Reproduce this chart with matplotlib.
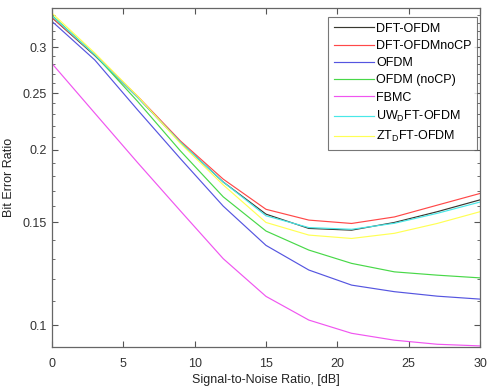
import numpy as np
import matplotlib
matplotlib.use("Agg")
import matplotlib.pyplot as plt
from matplotlib.ticker import FixedLocator, FixedFormatter, NullFormatter

# SNR points (dB)
snr = [0, 3, 6, 9, 12, 15, 18, 21, 24, 27, 30]

# BER
dft_ofdm = [0.337, 0.290, 0.246, 0.206, 0.176, 0.155, 0.1465, 0.1455, 0.150, 0.1565, 0.164]
dft_ofdm_nocp = [0.337, 0.291, 0.247, 0.207, 0.178, 0.158, 0.1514, 0.1494, 0.1533, 0.1606, 0.1682]
ofdm = [0.332, 0.285, 0.234, 0.193, 0.160, 0.137, 0.1243, 0.1171, 0.1141, 0.1121, 0.1108]
ofdm_nocp = [0.340, 0.291, 0.242, 0.199, 0.166, 0.145, 0.1345, 0.1276, 0.1234, 0.1218, 0.1205]
fbmc = [0.281, 0.231, 0.190, 0.157, 0.130, 0.112, 0.102, 0.0968, 0.0942, 0.0927, 0.0921]
uw_dft = [0.339, 0.291, 0.246, 0.206, 0.176, 0.154, 0.147, 0.146, 0.1495, 0.1555, 0.1626]
zt_dft = [0.343, 0.293, 0.247, 0.205, 0.174, 0.150, 0.1427, 0.1408, 0.1437, 0.1494, 0.1565]

labels = ["DFT-OFDM", "DFT-OFDMnoCP", "OFDM", "OFDM (noCP)", "FBMC",
          "UW$_\\mathregular{D}$FT-OFDM", "ZT$_\\mathregular{D}$FT-OFDM"]
colors = ["#383830", "#ff4848", "#5555e0", "#48d848", "#f055f0", "#48e8e8", "#ffff55"]
series = [dft_ofdm, dft_ofdm_nocp, ofdm, ofdm_nocp, fbmc, uw_dft, zt_dft]

plt.rcParams['font.family'] = ['Liberation Sans', 'DejaVu Sans']

fig = plt.figure(figsize=(4.87, 3.88), dpi=100)
ax = fig.add_axes([52/487, 1-347/388, (480-52)/487, (347-8)/388])

for y, c, lab in zip(series, colors, labels):
    ax.plot(snr, y, color=c, lw=0.85, label=lab)

ax.set_yscale('log')
ax.set_xlim(0, 30)
ax.set_ylim(0.0917, 0.35)

ax.set_xticks([0, 5, 10, 15, 20, 25, 30])
yt = [0.1, 0.15, 0.2, 0.25, 0.3]
ax.yaxis.set_major_locator(FixedLocator(yt))
ax.yaxis.set_major_formatter(FixedFormatter(["0.1", "0.15", "0.2", "0.25", "0.3"]))
minor = [v for v in np.arange(0.10, 0.35, 0.01) if min(abs(v - t) for t in yt) > 1e-6]
ax.yaxis.set_minor_locator(FixedLocator(minor))
ax.yaxis.set_minor_formatter(NullFormatter())

ax.tick_params(which='both', direction='in', top=True, right=True, colors='#555555',
               labelcolor='#333333', labelsize=9)
ax.tick_params(which='major', length=4, width=0.8)
ax.tick_params(which='minor', length=2, width=0.6)
ax.tick_params(axis='x', pad=8)
for s in ax.spines.values():
    s.set_color('#666666')
    s.set_linewidth(0.9)

ax.set_xlabel("Signal-to-Noise Ratio, [dB]", fontsize=9, color='#222222', labelpad=3)
ax.set_ylabel("Bit Error Ratio", fontsize=9, color='#222222', labelpad=6)

leg = ax.legend(loc='upper right', bbox_to_anchor=((477-52)/428, (347-17)/339),
                fontsize=9, frameon=True, fancybox=False, edgecolor='#555555',
                borderaxespad=0, borderpad=0.45, handlelength=3.2,
                handletextpad=0.15, labelspacing=0.42)
leg.get_frame().set_linewidth(0.8)

fig.savefig("out.png", dpi=100)
